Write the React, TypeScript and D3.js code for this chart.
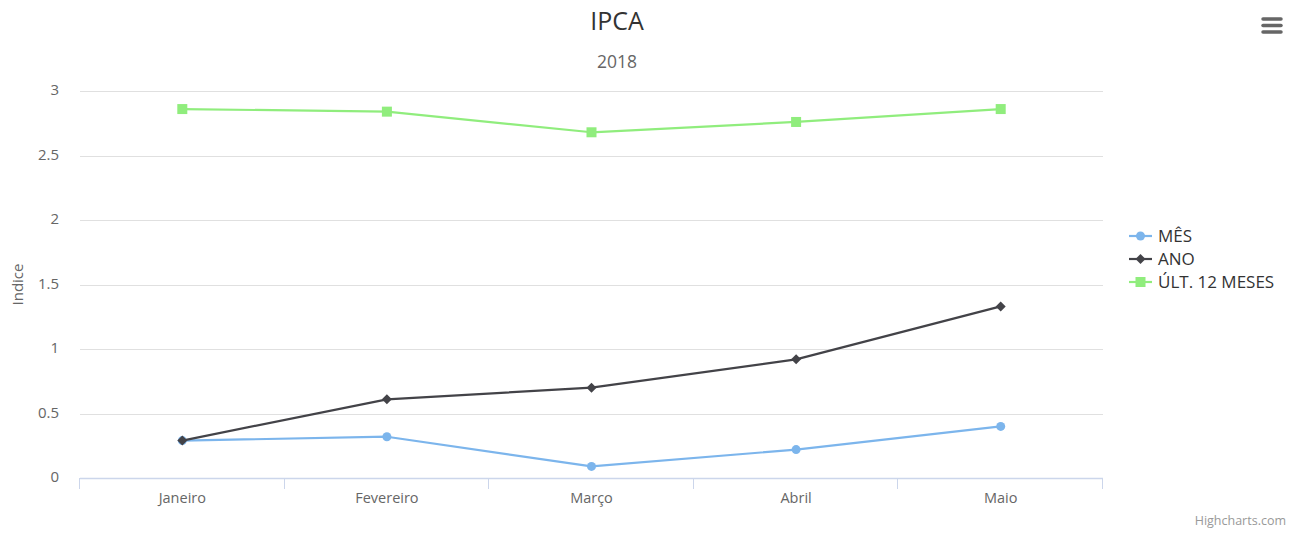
import React from "react";
import * as d3 from "d3";

const categories = ["Janeiro", "Fevereiro", "Março", "Abril", "Maio"];
const mes = [0.29, 0.32, 0.09, 0.22, 0.40];
const ano = [0.29, 0.61, 0.70, 0.92, 1.33];
const ult12 = [2.86, 2.84, 2.68, 2.76, 2.86];
const yTicks = [0, 0.5, 1, 1.5, 2, 2.5, 3];
const seriesNames = ["MÊS", "ANO", "ÚLT. 12 MESES"];
const seriesColors = ["#7cb5ec", "#434348", "#90ed7d"];
const seriesSymbols = ["circle", "diamond", "square"];

const W = 1294, H = 533;
const left = 80, right = 1103, top = 91, bottom = 478;
const font = "'Open Sans', 'DejaVu Sans', sans-serif";

function Marker({ type, x, y, color }: { type: string; x: number; y: number; color: string }) {
  if (type === "circle") return <circle cx={x} cy={y} r={4.5} fill={color} />;
  if (type === "diamond")
    return <path d={`M${x},${y - 5}L${x + 5},${y}L${x},${y + 5}L${x - 5},${y}Z`} fill={color} />;
  return <rect x={x - 5} y={y - 5} width={10} height={10} fill={color} />;
}

export default function App() {
  const x = d3.scaleBand<string>().domain(categories).range([left, right]);
  const y = d3.scaleLinear().domain([0, 3]).range([bottom, top]);
  const data = [mes, ano, ult12];
  const line = d3
    .line<number>()
    .x((_, i) => (x(categories[i]) as number) + x.bandwidth() / 2)
    .y((d) => y(d));
  const boundaries = categories.map((c) => x(c) as number).concat([right]);

  return (
    <svg
      width={W}
      height={H}
      style={{ position: "absolute", left: 0, top: 0, fontFamily: font }}
    >
      <rect width={W} height={H} fill="#fff" />
      <text x={617} y={30} textAnchor="middle" fontSize={25} fill="#333">IPCA</text>
      <text x={617} y={68} textAnchor="middle" fontSize={17.5} fill="#666">2018</text>
      {/* hamburger */}
      <g stroke="#666" strokeWidth={3.5} strokeLinecap="round">
        {[19, 25.5, 32].map((yy) => (
          <line key={yy} x1={1263} x2={1281} y1={yy} y2={yy} />
        ))}
      </g>
      {/* grid */}
      {yTicks.map((t) => (
        <g key={t}>
          {t !== 0 && (
            <line x1={left} x2={right} y1={Math.round(y(t)) + 0.5} y2={Math.round(y(t)) + 0.5} stroke="#e0e0e0" />
          )}
          <text x={59} y={y(t) + 4} textAnchor="end" fontSize={15} fill="#666">{t}</text>
        </g>
      ))}
      <text
        transform={`translate(23,${(top + bottom) / 2}) rotate(-90)`}
        textAnchor="middle"
        fontSize={15}
        fill="#666"
      >
        Indice
      </text>
      {/* x axis */}
      <line x1={left} x2={right} y1={bottom + 0.5} y2={bottom + 0.5} stroke="#ccd6eb" strokeWidth={1.5} />
      {boundaries.map((b, i) => (
        <line key={i} x1={Math.round(b) - 0.5} x2={Math.round(b) - 0.5} y1={bottom} y2={bottom + 11} stroke="#ccd6eb" />
      ))}
      {categories.map((c) => (
        <text key={c} x={(x(c) as number) + x.bandwidth() / 2} y={503} textAnchor="middle" fontSize={14.5} fill="#666">
          {c}
        </text>
      ))}
      {/* series */}
      {data.map((s, si) => (
        <g key={si}>
          <path d={line(s) as string} fill="none" stroke={seriesColors[si]} strokeWidth={2.2} strokeLinejoin="round" />
          {s.map((v, i) => (
            <Marker
              key={i}
              type={seriesSymbols[si]}
              x={(x(categories[i]) as number) + x.bandwidth() / 2}
              y={y(v)}
              color={seriesColors[si]}
            />
          ))}
        </g>
      ))}
      {/* legend */}
      {seriesNames.map((n, i) => {
        const ly = 236 + i * 23;
        return (
          <g key={n}>
            <line x1={1129} x2={1152} y1={ly} y2={ly} stroke={seriesColors[i]} strokeWidth={2.2} />
            <Marker type={seriesSymbols[i]} x={1140.5} y={ly} color={seriesColors[i]} />
            <text x={1158} y={ly + 6} fontSize={17} fill="#333">{n}</text>
          </g>
        );
      })}
      <text x={1286} y={525} textAnchor="end" fontSize={12.5} fill="#999">Highcharts.com</text>
    </svg>
  );
}
